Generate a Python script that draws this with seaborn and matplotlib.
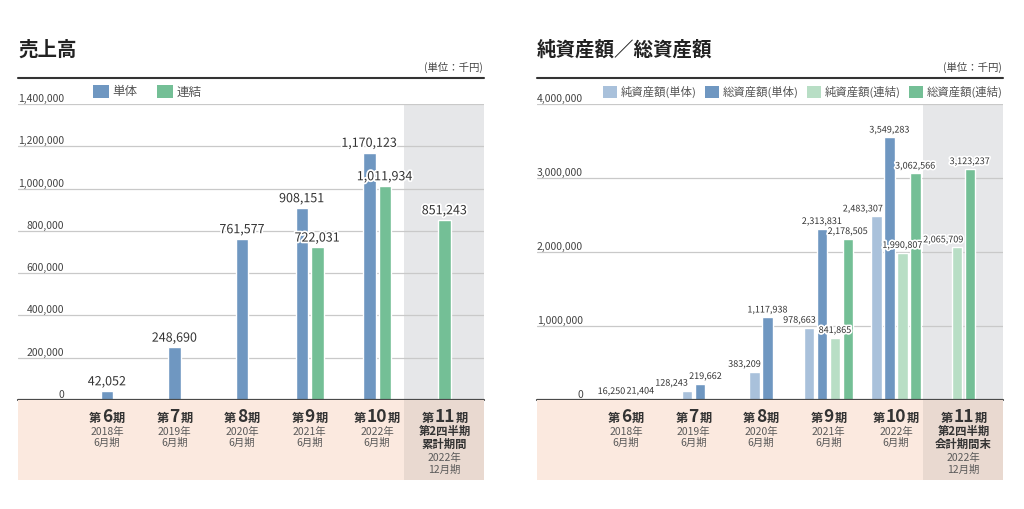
import numpy as np
import pandas as pd
import matplotlib
matplotlib.use("Agg")
import matplotlib.pyplot as plt
import seaborn as sns
from matplotlib.patches import Patch
from matplotlib.lines import Line2D
from matplotlib.offsetbox import TextArea, HPacker, AnnotationBbox
import matplotlib.patheffects as pe

# ---------------- data ----------------
period_nums = ["6", "7", "8", "9", "10", "11"]
period_years = ["2018年", "2019年", "2020年", "2021年", "2022年", "2022年"]
period_months = ["6月期", "6月期", "6月期", "6月期", "6月期", "12月期"]

sales_series = ["単体", "連結"]
sales_single = [42052, 248690, 761577, 908151, 1170123, None]
sales_consol = [None, None, None, 722031, 1011934, 851243]
sales_ticks = [0, 200000, 400000, 600000, 800000, 1000000, 1200000, 1400000]

asset_series = ["純資産額(単体)", "総資産額(単体)", "純資産額(連結)", "総資産額(連結)"]
net_single = [16250, 128243, 383209, 978663, 2483307, None]
total_single = [21404, 219662, 1117938, 2313831, 3549283, None]
net_consol = [None, None, None, 841865, 1990807, 2065709]
total_consol = [None, None, None, 2178505, 3062566, 3123237]
asset_ticks = [0, 1000000, 2000000, 3000000, 4000000]

left_title = "売上高"
right_title = "純資産額／総資産額"
unit_label = "(単位：千円)"
left_last_lines = ["第2四半期", "累計期間"]
right_last_lines = ["第2四半期", "会計期間末"]

# ---------------- style ----------------
sns.set_theme(style="white")
FONTS = ["Noto Sans CJK JP", "DejaVu Sans"]
plt.rcParams["font.family"] = FONTS

C_BLUE = "#6f97c1"
C_GREEN = "#74bf96"
C_LBLUE = "#a9c1db"
C_LGREEN = "#b8dec5"
C_GRAYBG = "#e6e7e9"
C_BEIGE = "#fbe9df"
C_DBEIGE = "#e9d9d0"
C_GRID = "#c9c9c9"
C_TEXT = "#333333"

W, H = 1024, 509
fig = plt.figure(figsize=(W / 100, H / 100), dpi=100)

CAT_PX = 67.5
X_LEFT_PAD = 89 / CAT_PX
AX_W_PX = 466
XMIN = -X_LEFT_PAD
XMAX = XMIN + AX_W_PX / CAT_PX
SHADE_X0 = XMIN + 386 / CAT_PX

panels = []


def build_frame(series_names, series_values, step):
    rows = []
    for i in range(len(period_nums)):
        present = [(n, v[i]) for n, v in zip(series_names, series_values) if v[i] is not None]
        k = len(present)
        for j, (n, v) in enumerate(present):
            rows.append({"pos": i + (j - (k - 1) / 2) * step, "value": v, "series": n})
    return pd.DataFrame(rows)


def fx(px):
    return px / W


def fy(py):
    return 1 - py / H


def draw_panel(x0_px, title, series_names, series_values, colors, ticks, step,
               bar_px, label_fs, last_lines, legend_fs, legend_x_px, colspacing,
               avoid_bars):
    ax = fig.add_axes([fx(x0_px), fy(400), AX_W_PX / W, 296 / H])
    df = build_frame(series_names, series_values, step)
    bar_w = bar_px / CAT_PX
    width = bar_w / step
    sns.barplot(data=df, x="pos", y="value", hue="series", hue_order=series_names,
                palette=dict(zip(series_names, colors)), native_scale=True,
                dodge=False, width=width, errorbar=None, legend=False,
                saturation=1, ax=ax, zorder=2)
    ax.set_xlim(XMIN, XMAX)
    ax.set_ylim(0, ticks[-1])
    ax.axvspan(SHADE_X0, XMAX, color=C_GRAYBG, zorder=0, lw=0)
    ax.set_yticks(ticks)
    ax.set_xticks([])
    ax.tick_params(axis="y", length=0, labelleft=False)
    ax.grid(axis="y", color=C_GRID, lw=0.9, zorder=1)
    ax.set_axisbelow(True)
    for s in ax.spines.values():
        s.set_visible(False)
    ax.set_xlabel("")
    ax.set_ylabel("")
    ax.set_facecolor("none")
    ax.axhline(0, color="#4a4a4a", lw=1.6, zorder=5, clip_on=False)

    # y tick labels above grid lines
    ytrans = ax.get_yaxis_transform()
    for t in ticks:
        ax.text(46 / AX_W_PX, t, f"{t:,}", transform=ytrans, ha="right", va="bottom",
                fontsize=7.5, color="#444444")

    # value labels
    anns = []
    for _, r in df.iterrows():
        a = ax.annotate(f"{int(r['value']):,}", (r["pos"], r["value"]), xytext=(0, 2),
                        textcoords="offset points", ha="center", va="bottom",
                        fontsize=label_fs, color=C_TEXT, zorder=6,
                        path_effects=[pe.withStroke(linewidth=2.5, foreground="white")])
        anns.append(a)
    panels.append((ax, df, anns, bar_w, avoid_bars))

    # legend
    handles = [Patch(facecolor=c, edgecolor="none", label=n) for n, c in zip(series_names, colors)]
    ax.legend(handles=handles, loc="center left",
              bbox_to_anchor=((legend_x_px - x0_px) / AX_W_PX, (400 - 91.5) / 296),
              ncol=len(handles), frameon=False, fontsize=legend_fs,
              handlelength=1.25, handleheight=1.25, handletextpad=0.3,
              columnspacing=colspacing, borderpad=0, borderaxespad=0,
              labelcolor="#555555")

    # title, unit and top rule
    fig.text(fx(x0_px), fy(50), title, fontsize=14, fontweight="bold", color="#222222",
             va="center", ha="left")
    fig.text(fx(x0_px + AX_W_PX - 1), fy(67), unit_label, fontsize=7.5, color="#444444",
             va="center", ha="right")
    fig.add_artist(Line2D([fx(x0_px), fx(x0_px + AX_W_PX)], [fy(78), fy(78)],
                          color="#333333", lw=1.5))

    # category band
    band = fig.add_axes([fx(x0_px), fy(480), AX_W_PX / W, 80 / H])
    band.set_xlim(XMIN, XMAX)
    band.set_ylim(0, 1)
    band.set_facecolor(C_BEIGE)
    band.axvspan(SHADE_X0, XMAX, color=C_DBEIGE, lw=0)
    band.set_xticks([])
    band.set_yticks([])
    for s in band.spines.values():
        s.set_visible(False)

    def by(py):
        return (480 - py) / 80

    for i, num in enumerate(period_nums):
        parts = [
            TextArea("第", textprops=dict(fontsize=8.8, fontweight="bold", color=C_TEXT, family=FONTS)),
            TextArea(num, textprops=dict(fontsize=12.5, fontweight="bold", color=C_TEXT, family=FONTS)),
            TextArea("期", textprops=dict(fontsize=8.8, fontweight="bold", color=C_TEXT, family=FONTS)),
        ]
        box = HPacker(children=parts, align="baseline", pad=0, sep=0.5)
        ab = AnnotationBbox(box, (i, by(417)), xycoords=("data", "axes fraction"),
                            frameon=False, box_alignment=(0.5, 0.5), pad=0)
        band.add_artist(ab)
        if i < len(period_nums) - 1:
            band.text(i, by(431.5), period_years[i], ha="center", va="center",
                      fontsize=7.5, color="#5a5a5a")
            band.text(i, by(442.5), period_months[i], ha="center", va="center",
                      fontsize=7.5, color="#5a5a5a")
        else:
            band.text(i, by(431.5), last_lines[0], ha="center", va="center",
                      fontsize=8.2, fontweight="bold", color=C_TEXT)
            band.text(i, by(444), last_lines[1], ha="center", va="center",
                      fontsize=8.2, fontweight="bold", color=C_TEXT)
            band.text(i, by(458), period_years[i], ha="center", va="center",
                      fontsize=7.5, color="#5a5a5a")
            band.text(i, by(469.5), period_months[i], ha="center", va="center",
                      fontsize=7.5, color="#5a5a5a")
    return ax


draw_panel(18, left_title, sales_series, [sales_single, sales_consol],
           [C_BLUE, C_GREEN], sales_ticks, 15.5 / CAT_PX, 12.5, 9,
           left_last_lines, 9, 93, 1.6, False)

draw_panel(537, right_title, asset_series,
           [net_single, total_single, net_consol, total_consol],
           [C_LBLUE, C_BLUE, C_LGREEN, C_GREEN], asset_ticks, 12.9 / CAT_PX, 10.5, 6.5,
           right_last_lines, 8.2, 603, 0.75, True)

# ---------- keep value labels from colliding (display pixels) ----------
fig.canvas.draw()
renderer = fig.canvas.get_renderer()
PX2PT = 72 / fig.dpi
for ax, df, anns, bar_w, avoid_bars in panels:
    boxes = [a.get_window_extent(renderer) for a in anns]
    bars = []
    for _, r in df.iterrows():
        (bx0, by0) = ax.transData.transform((r["pos"] - bar_w / 2, 0))
        (bx1, by1) = ax.transData.transform((r["pos"] + bar_w / 2, r["value"]))
        bars.append((bx0, bx1, by1))
    n = len(anns)
    dx = np.zeros(n)
    if avoid_bars:
        for i in range(n):
            b = boxes[i]
            own_c = (bars[i][0] + bars[i][1]) / 2
            left_block, right_block = None, None
            for k in range(n):
                if k == i:
                    continue
                bx0, bx1, top = bars[k]
                if top <= b.y0 or bx1 < b.x0 or bx0 > b.x1:
                    continue
                if (bx0 + bx1) / 2 < own_c:
                    left_block = bx1 if left_block is None else max(left_block, bx1)
                else:
                    right_block = bx0 if right_block is None else min(right_block, bx0)
            if left_block is not None and right_block is None:
                dx[i] = max(0, left_block + 1 - b.x0)
            elif right_block is not None and left_block is None:
                dx[i] = min(0, right_block - 1 - b.x1)
    for _ in range(20):
        moved = False
        order = sorted(range(n), key=lambda j: boxes[j].x0 + dx[j])
        for a_i, b_i in zip(order[:-1], order[1:]):
            A, B = boxes[a_i], boxes[b_i]
            ax0, ax1 = A.x0 + dx[a_i], A.x1 + dx[a_i]
            bx0, bx1 = B.x0 + dx[b_i], B.x1 + dx[b_i]
            if min(A.y1, B.y1) - max(A.y0, B.y0) > 1 and ax1 + 1 > bx0:
                ov = ax1 + 1 - bx0
                dx[a_i] -= ov / 2
                dx[b_i] += ov / 2
                moved = True
        if not moved:
            break
    for a, d in zip(anns, dx):
        a.xyann = (d * PX2PT, 2)

fig.savefig("out.png", dpi=100, facecolor="white")
